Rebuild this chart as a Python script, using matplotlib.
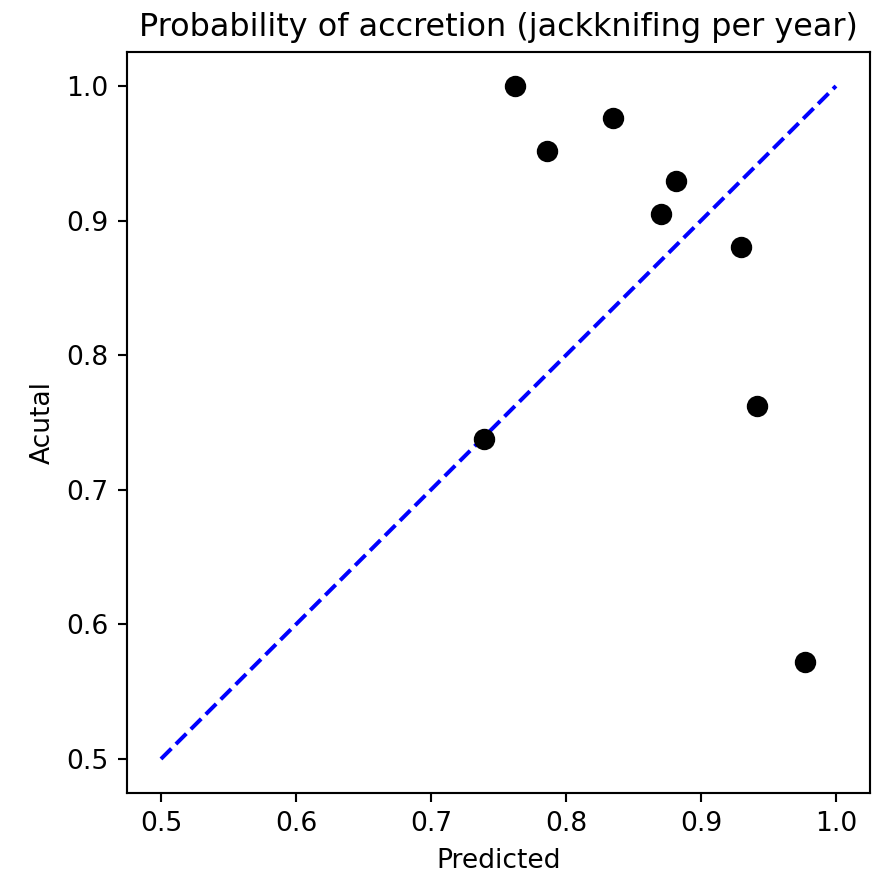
import matplotlib
matplotlib.use("Agg")
import matplotlib.pyplot as plt

predicted = [0.7622, 0.7863, 0.8348, 0.8815, 0.8704, 0.9296, 0.9415, 0.7393, 0.977]
actual = [1.0, 0.9517, 0.9762, 0.9294, 0.905, 0.8804, 0.7623, 0.7377, 0.572]
line_x = [0.5, 1.0]
line_y = [0.5, 1.0]

DPI = 191
fig = plt.figure(figsize=(889 / DPI, 876 / DPI), dpi=DPI)
ax = fig.add_axes([0.1431, 0.0952, 0.9783 - 0.1431, 0.9402 - 0.0952])
ax.plot(line_x, line_y, "b--")
ax.scatter(predicted, actual, color="black", s=50, zorder=3)
ax.set_xlabel("Predicted")
ax.set_ylabel("Acutal")
ax.set_title("Probability of accretion (jackknifing per year)")
fig.savefig("out.png", dpi=DPI)
